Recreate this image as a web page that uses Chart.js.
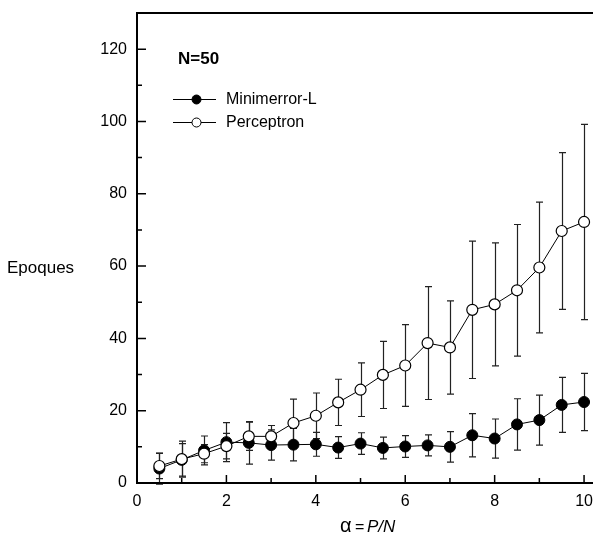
<!DOCTYPE html>
<html>
<head>
<meta charset="utf-8">
<script src="https://cdn.jsdelivr.net/npm/chart.js@4"></script>
<style>
  body { margin: 0; background: #fff; }
  #wrap { width: 593px; height: 539px; }
</style>
</head>
<body>
<div id="wrap"><canvas id="chart"></canvas></div>
<script>
// data
const alpha = [0.5, 1, 1.5, 2, 2.5, 3, 3.5, 4, 4.5, 5, 5.5, 6, 6.5, 7, 7.5, 8, 8.5, 9, 9.5, 10];
const minimerror = [4.0, 6.4, 9.0, 11.3, 11.1, 10.5, 10.6, 10.7, 9.8, 10.9, 9.7, 10.1, 10.4, 10.0, 13.2, 12.3, 16.2, 17.4, 21.6, 22.4];
const minimerrorErr = [4.3, 4.5, 4.0, 5.4, 5.9, 4.2, 4.5, 3.3, 3.0, 3.0, 3.0, 3.0, 2.9, 4.2, 6.0, 5.4, 7.1, 6.9, 7.6, 7.9];
const perceptron = [4.7, 6.6, 8.1, 10.2, 12.9, 12.9, 16.6, 18.6, 22.3, 25.8, 29.9, 32.5, 38.7, 37.5, 47.9, 49.4, 53.3, 59.6, 69.7, 72.2];
const perceptronErr = [3.5, 5.0, 2.5, 3.5, 3.9, 3.0, 6.6, 6.3, 6.4, 7.4, 9.3, 11.3, 15.6, 12.9, 19.0, 17.0, 18.2, 18.1, 21.7, 27.0];
const yTicks = [0, 20, 40, 60, 80, 100, 120];
const xTicks = [0, 2, 4, 6, 8, 10];

const FONT = 'Liberation Sans, Arial, sans-serif';

function toPoints(xs, ys, errs) {
    return xs.map((x, i) => ({ x: x, y: ys[i], err: errs[i] }));
}

// error bars under the markers
const errorBars = {
    id: 'errorBars',
    beforeDatasetsDraw(chart) {
        const ctx = chart.ctx;
        const xs = chart.scales.x, ys = chart.scales.y;
        ctx.save();
        ctx.strokeStyle = '#222';
        ctx.lineWidth = 1.2;
        chart.data.datasets.forEach(ds => {
            ds.data.forEach(p => {
                const px = Math.round(xs.getPixelForValue(p.x)) + 0.5;
                const top = ys.getPixelForValue(p.y + p.err);
                const bot = ys.getPixelForValue(p.y - p.err);
                ctx.beginPath();
                ctx.moveTo(px, top); ctx.lineTo(px, bot);
                ctx.moveTo(px - 3.5, top); ctx.lineTo(px + 3.5, top);
                ctx.moveTo(px - 3.5, bot); ctx.lineTo(px + 3.5, bot);
                ctx.stroke();
            });
        });
        ctx.restore();
    }
};

// frame, inward ticks, x labels, titles and legend
const frame = {
    id: 'frame',
    afterDraw(chart) {
        const ctx = chart.ctx;
        const a = chart.chartArea;
        const xs = chart.scales.x, ys = chart.scales.y;
        ctx.save();
        ctx.strokeStyle = '#000';
        ctx.lineWidth = 2;
        ctx.beginPath();
        ctx.moveTo(a.left, a.top); ctx.lineTo(chart.width, a.top);
        ctx.moveTo(a.left, a.top - 1); ctx.lineTo(a.left, a.bottom + 1);
        ctx.moveTo(a.left - 1, a.bottom); ctx.lineTo(chart.width, a.bottom);
        ctx.stroke();

        ctx.lineWidth = 1.5;
        ctx.beginPath();
        ys.ticks.forEach(t => {
            if (t.value >= ys.max) return;
            const py = ys.getPixelForValue(t.value);
            const len = t.value % 20 === 0 ? 9 : 5;
            ctx.moveTo(a.left, py); ctx.lineTo(a.left + len, py);
        });
        xs.ticks.forEach(t => {
            const px = xs.getPixelForValue(t.value);
            const len = t.value % 2 === 0 ? 8 : 5;
            ctx.moveTo(px, a.bottom); ctx.lineTo(px, a.bottom - len);
        });
        ctx.stroke();

        ctx.fillStyle = '#000';
        ctx.font = '16px ' + FONT;
        ctx.textAlign = 'center';
        ctx.textBaseline = 'top';
        xTicks.forEach(v => {
            ctx.fillText(String(v), xs.getPixelForValue(v), a.bottom + 11);
        });

        // axis titles
        ctx.textBaseline = 'alphabetic';
        ctx.textAlign = 'left';
        ctx.font = '17px ' + FONT;
        ctx.fillText('Epoques', 7, 273);

        ctx.font = '20px ' + FONT;
        ctx.fillText('\u03b1', 340, 532);
        ctx.font = '16px ' + FONT;
        ctx.fillText('=', 355, 532);
        ctx.font = 'italic 17px ' + FONT;
        ctx.fillText('P/N', 367, 532);

        // legend
        ctx.font = 'bold 17px ' + FONT;
        ctx.fillText('N=50', 178, 64);
        ctx.font = '16px ' + FONT;
        ctx.textBaseline = 'middle';
        const rows = [99, 122];
        chart.data.datasets.forEach((ds, i) => {
            const y = rows[i];
            ctx.lineWidth = 1;
            ctx.strokeStyle = '#000';
            ctx.beginPath();
            ctx.moveTo(173, y + 0.5); ctx.lineTo(216, y + 0.5);
            ctx.stroke();
            ctx.beginPath();
            ctx.arc(196.5, y + 0.5, 4.5, 0, Math.PI * 2);
            ctx.fillStyle = ds.pointBackgroundColor;
            ctx.fill();
            ctx.stroke();
            ctx.fillStyle = '#000';
            ctx.fillText(ds.label, 226, y + 1);
        });
        ctx.restore();
    }
};

const chart = new Chart(document.getElementById('chart'), {
    type: 'line',
    data: {
        datasets: [
            {
                label: 'Minimerror-L',
                data: toPoints(alpha, minimerror, minimerrorErr),
                borderColor: '#000',
                borderWidth: 1,
                pointRadius: 5.5,
                pointBorderWidth: 1,
                pointBorderColor: '#000',
                pointBackgroundColor: '#000',
                order: 1
            },
            {
                label: 'Perceptron',
                data: toPoints(alpha, perceptron, perceptronErr),
                borderColor: '#000',
                borderWidth: 1,
                pointRadius: 5.5,
                pointBorderWidth: 1.2,
                pointBorderColor: '#000',
                pointBackgroundColor: '#fff',
                order: 0
            }
        ]
    },
    options: {
        responsive: true,
        maintainAspectRatio: false,
        animation: false,
        layout: {
            autoPadding: false,
            padding: { top: 13, right: 0, left: 0, bottom: 0 }
        },
        plugins: {
            legend: { display: false },
            tooltip: { enabled: false }
        },
        scales: {
            x: {
                type: 'linear',
                min: 0,
                max: 10.2,
                grid: { display: false, drawTicks: false },
                border: { display: false },
                afterBuildTicks: s => {
                    s.ticks = [0, 1, 2, 3, 4, 5, 6, 7, 8, 9, 10].map(v => ({ value: v }));
                },
                afterFit: s => {
                    s.height = 56;
                    s.paddingLeft = 0; s.paddingRight = 0;
                },
                ticks: { display: false }
            },
            y: {
                min: 0,
                max: 130,
                grid: { display: false, drawTicks: false },
                border: { display: false },
                afterFit: s => {
                    s.width = 137;
                    s.paddingTop = 0; s.paddingBottom = 0;
                },
                ticks: {
                    stepSize: 10,
                    padding: 10,
                    color: '#000',
                    font: { family: FONT, size: 16 },
                    callback: v => yTicks.includes(v) ? String(v) : ''
                }
            }
        }
    },
    plugins: [errorBars, frame]
});
</script>
</body>
</html>
